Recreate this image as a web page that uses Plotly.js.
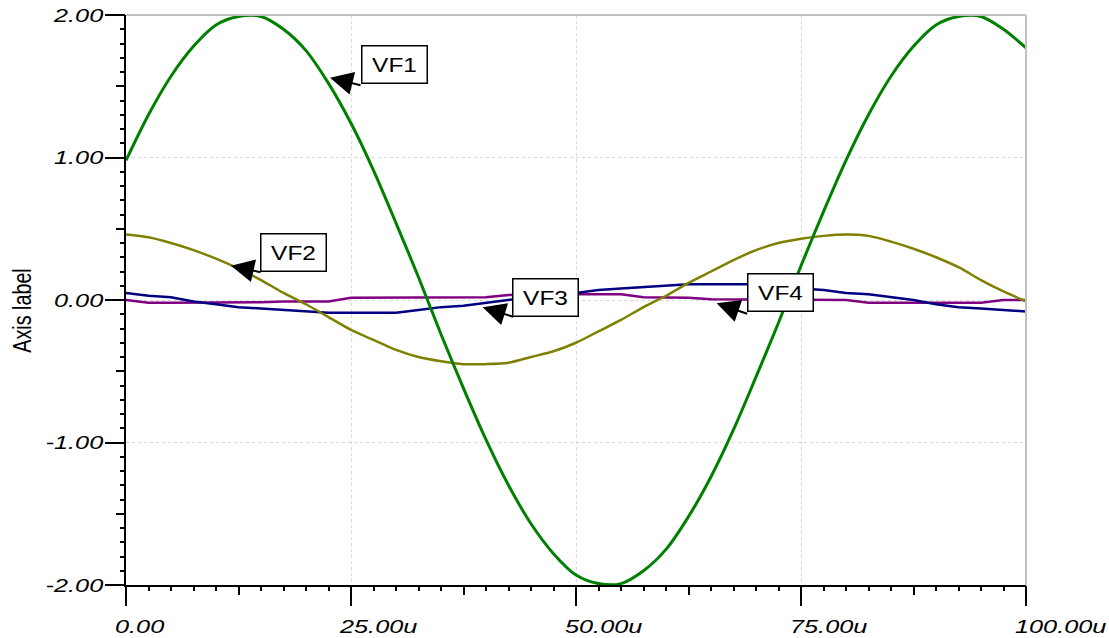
<!DOCTYPE html>
<html>
<head>
<meta charset="utf-8">
<script src="https://cdn.plot.ly/plotly-3.0.1.min.js"></script>
<style>
  html, body { margin: 0; padding: 0; background: #ffffff; }
  #chart { width: 1109px; height: 638px; }
</style>
</head>
<body>
<div id="chart"></div>
<script>
// Time samples (microseconds)
const timeU = [0,2.5,5,7.5,10,12.5,15,17.5,20,22.5,25,27.5,30,32.5,35,37.5,40,42.5,45,47.5,50,
               52.5,55,57.5,60,62.5,65,67.5,70,72.5,75,77.5,80,82.5,85,87.5,90,92.5,95,97.5,100];

// Series values
const VF1 = [0.98,1.30,1.57,1.78,1.93,1.99,1.99,1.90,1.75,1.52,1.24,0.91,0.54,0.16,-0.24,-0.62,-0.98,
             -1.30,-1.57,-1.78,-1.93,-1.99,-1.99,-1.90,-1.75,-1.52,-1.24,-0.91,-0.54,-0.16,0.24,0.62,
             0.98,1.30,1.57,1.78,1.93,1.99,1.99,1.90,1.77];
const VF2 = [0.46,0.44,0.40,0.35,0.29,0.22,0.14,0.05,-0.03,-0.12,-0.21,-0.28,-0.35,-0.40,-0.43,-0.45,
             -0.45,-0.44,-0.40,-0.36,-0.30,-0.22,-0.14,-0.05,0.03,0.12,0.20,0.28,0.35,0.40,0.43,0.45,
             0.46,0.45,0.41,0.36,0.30,0.23,0.14,0.06,-0.01];
const VF3 = [0.05,0.03,0.02,-0.01,-0.03,-0.05,-0.06,-0.07,-0.08,-0.09,-0.09,-0.09,-0.09,-0.07,-0.05,
             -0.04,-0.02,0.0,0.02,0.04,0.05,0.07,0.08,0.09,0.10,0.11,0.11,0.11,0.11,0.10,0.08,0.07,
             0.05,0.04,0.02,0.0,-0.03,-0.05,-0.06,-0.07,-0.08];
const VF4 = [0.0,-0.02,-0.02,-0.02,-0.02,-0.02,-0.015,-0.01,-0.01,-0.01,0.015,0.015,0.015,0.02,0.02,
             0.02,0.02,0.035,0.04,0.04,0.04,0.04,0.04,0.02,0.02,0.015,0.005,0.005,0.0,0.0,0.0,0.0,
             0.0,-0.02,-0.02,-0.02,-0.02,-0.02,-0.02,0.0,0.0];

const seriesNames = ['VF1','VF2','VF3','VF4'];
const seriesColors = ['#008000','#808000','#000080','#800080'];

// Axis ticks
const xTickVals = [0,25,50,75,100];
const xTickText = ['0.00','25.00u','50.00u','75.00u','100.00u'];
const yTickVals = [-2,-1,0,1,2];
const yTickText = ['-2.00','-1.00','0.00','1.00','2.00'];
const yAxisTitle = 'Axis label';

// Label boxes (centre) and arrow tips
const labelBoxX = [29.8, 18.64, 46.64, 72.67];
const labelBoxY = [1.654, 0.33, 0.021, 0.051];
const arrowTipX = [22.67, 11.67, 39.63, 65.63];
const arrowTipY = [1.56, 0.241, -0.051, -0.023];
const arrowOffX = [32, 31, 32, 32];
const arrowOffY = [8, 7, 10, 11];

const seriesData = [VF1, VF2, VF3, VF4];
const traces = [];
// draw VF4 first, VF1 last (on top)
for (let i = 3; i >= 0; i--) {
  traces.push({
    type: 'scatter', mode: 'lines', name: seriesNames[i],
    x: timeU, y: seriesData[i],
    line: { color: seriesColors[i], width: i === 0 ? 3 : 2.5,
            shape: i < 2 ? 'spline' : 'linear', smoothing: 0.8 },
    showlegend: false, hoverinfo: 'skip'
  });
}
// empty traces that carry the overlay tick axes
traces.push({ type:'scatter', mode:'lines', x:[], y:[], xaxis:'x3', yaxis:'y', showlegend:false, hoverinfo:'skip' });
traces.push({ type:'scatter', mode:'lines', x:[], y:[], xaxis:'x', yaxis:'y3', showlegend:false, hoverinfo:'skip' });

const tickFont = { family: 'Liberation Sans, Arial, sans-serif', size: 19, color: '#000000', style: 'italic' };

const annotations = [];
for (let i = 0; i < 4; i++) {
  annotations.push({
    x: arrowTipX[i], y: arrowTipY[i], xref: 'x', yref: 'y',
    text: '', showarrow: true, ax: arrowOffX[i], ay: arrowOffY[i],
    arrowhead: 2, arrowsize: 2.3, arrowwidth: 2, arrowcolor: '#000000', standoff: 0
  });
  annotations.push({
    x: labelBoxX[i], y: labelBoxY[i], xref: 'x', yref: 'y',
    text: seriesNames[i], showarrow: false,
    font: { family: 'Liberation Sans, Arial, sans-serif', size: 20, color: '#000000' },
    bgcolor: '#ffffff', bordercolor: '#000000', borderwidth: 1.5, borderpad: 1,
    width: 62, height: 34, xanchor: 'center', yanchor: 'middle'
  });
}
// y axis title (placed as rotated text)
annotations.push({
  x: 0, y: 0.4807, xref: 'paper', yref: 'paper', xanchor: 'center', yanchor: 'middle',
  xshift: -104, text: yAxisTitle, textangle: -90, showarrow: false,
  font: { family: 'Liberation Sans, Arial, sans-serif', size: 25, color: '#000000' }
});

const layout = {
  width: 1109, height: 638,
  margin: { l: 126, r: 83, t: 15, b: 53, pad: 0 },
  paper_bgcolor: '#ffffff', plot_bgcolor: '#ffffff',
  showlegend: false, hovermode: false,
  xaxis: {
    range: [0, 100], tickmode: 'array', tickvals: xTickVals, ticktext: xTickText,
    ticks: 'outside', ticklen: 19, tickwidth: 2, tickcolor: '#000000',
    showline: true, linecolor: '#000000', linewidth: 2,
    showgrid: true, gridcolor: '#d8d8d8', griddash: 'dot', gridwidth: 1,
    zeroline: false, tickfont: tickFont,
    ticklabelposition: 'outside right', ticklabelshift: -13, ticklabelstandoff: 23,
    minor: { tickmode: 'linear', tick0: 0, dtick: 2.5, ticks: 'outside', ticklen: 4, tickwidth: 2, tickcolor: '#000000', showgrid: false }
  },
  xaxis3: {
    overlaying: 'x', anchor: 'y', side: 'bottom', range: [0, 100],
    tickmode: 'linear', tick0: 0, dtick: 12.5,
    ticks: 'outside', ticklen: 9, tickwidth: 2, tickcolor: '#000000',
    showticklabels: false, showgrid: false, showline: false, zeroline: false
  },
  yaxis: {
    range: [-2, 2], tickmode: 'array', tickvals: yTickVals, ticktext: yTickText,
    ticks: 'outside', ticklen: 19, tickwidth: 2, tickcolor: '#000000',
    showline: true, linecolor: '#000000', linewidth: 2,
    showgrid: true, gridcolor: '#d8d8d8', griddash: 'dot', gridwidth: 1,
    zeroline: false, tickfont: tickFont, ticklabelstandoff: -2,
    minor: { tickmode: 'linear', tick0: 0, dtick: 0.1, ticks: 'outside', ticklen: 4, tickwidth: 2, tickcolor: '#000000', showgrid: false }
  },
  yaxis3: {
    overlaying: 'y', anchor: 'x', side: 'left', range: [-2, 2],
    tickmode: 'linear', tick0: 0, dtick: 0.5,
    ticks: 'outside', ticklen: 9, tickwidth: 2, tickcolor: '#000000',
    showticklabels: false, showgrid: false, showline: false, zeroline: false
  },
  shapes: [
    { type: 'line', xref: 'paper', yref: 'paper', x0: 0, x1: 1, y0: 1, y1: 1, line: { color: '#c0c0c0', width: 2 } },
    { type: 'line', xref: 'paper', yref: 'paper', x0: 1, x1: 1, y0: 0, y1: 1, line: { color: '#c0c0c0', width: 2 } }
  ],
  annotations: annotations
};

// horizontal stretch of the text, to match the wide lettering of the original
function stretchText(el, factor) {
  const w = el.getComputedTextLength();
  if (w > 0) {
    el.setAttribute('textLength', (w * factor).toFixed(1));
    el.setAttribute('lengthAdjust', 'spacingAndGlyphs');
  }
}

Plotly.newPlot('chart', traces, layout, { displayModeBar: false, staticPlot: true }).then(function (gd) {
  gd.querySelectorAll('.xtick text, .ytick text').forEach(function (t) { stretchText(t, 1.33); });
  gd.querySelectorAll('text.annotation-text').forEach(function (t) {
    if (t.textContent === yAxisTitle) stretchText(t, 0.79);
    else stretchText(t, 1.22);
  });
});
</script>
</body>
</html>
